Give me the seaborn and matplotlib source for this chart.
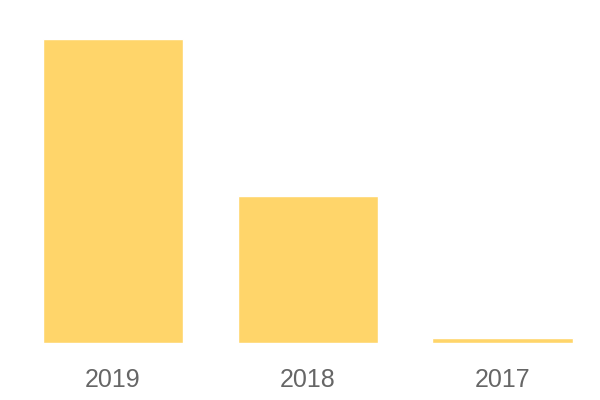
import pandas as pd
import seaborn as sns
import matplotlib.pyplot as plt

years = ["2019", "2018", "2017"]
counts = [62, 30, 1]

df = pd.DataFrame({"year": years, "count": counts})

sns.set_style("white")
plt.rcParams["font.family"] = ["Liberation Sans", "DejaVu Sans"]

fig = plt.figure(figsize=(6, 4), dpi=100)
ax = fig.add_axes([0.026, 0.1425, 0.974, 0.76])

sns.barplot(df, x="year", y="count", color="#FFD56A", saturation=1, width=0.72, ax=ax)

ax.set_xlim(-0.5, 2.5)
ax.set_ylim(0, 62)
ax.set_xlabel("")
ax.set_ylabel("")
ax.set_yticks([])
ax.tick_params(axis="x", length=0, pad=18, labelsize=18, labelcolor="#666666")
sns.despine(ax=ax, left=True, bottom=True)

fig.savefig("out.png", dpi=100)
